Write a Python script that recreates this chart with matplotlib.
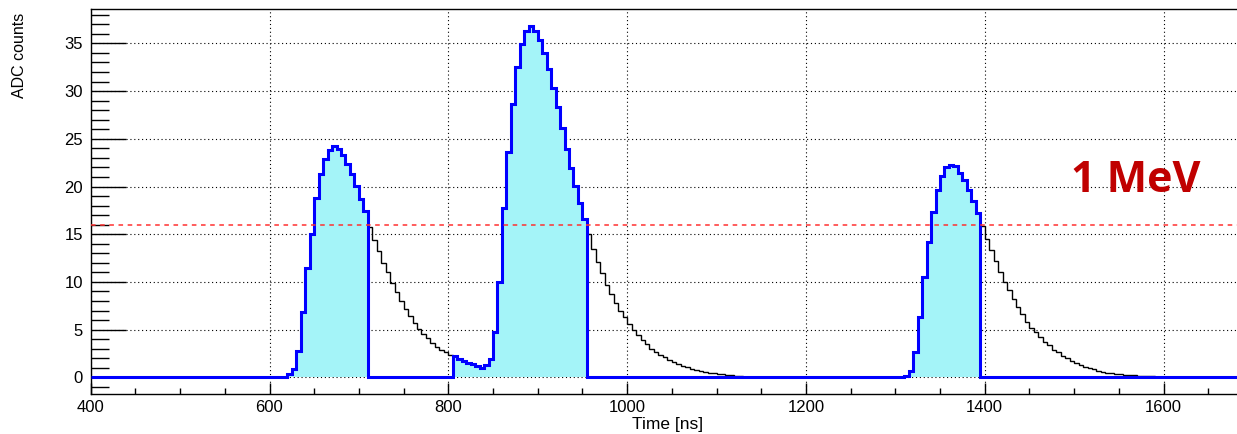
import numpy as np
import matplotlib
matplotlib.use("Agg")
import matplotlib.pyplot as plt
from matplotlib.ticker import MultipleLocator

# ---- data (ADC counts per 5 ns bin) ----
bin_width = 5
t_min = 400
t_max = 1690

pulse1_start = 620
pulse1_adc = [0.3, 0.85, 2.8, 6.8, 11.5, 15.0, 18.8, 21.3, 22.9, 23.8, 24.2, 23.9,
              23.3, 22.4, 21.3, 20.1, 18.7, 17.4,
              15.8, 14.4, 13.2, 12.0, 11.0, 9.85, 8.9, 8.0, 7.2, 6.4, 5.7, 5.1,
              4.5, 4.1, 3.6, 3.2, 2.9, 2.6, 2.3]

pulse2_start = 805
pulse2_adc = [2.2, 1.9, 1.7, 1.5, 1.36, 1.2, 1.0, 1.3, 1.9, 4.8, 10.0, 17.7, 23.6,
              28.7, 32.5, 34.9, 36.3, 36.8, 36.3, 35.4, 34.0, 32.3, 30.3, 28.3,
              26.1, 23.9, 21.9, 20.1, 18.3, 16.6,
              15.0, 13.5, 12.1, 10.9, 9.7, 8.7, 7.8, 6.95, 6.3, 5.6, 4.96, 4.4,
              3.9, 3.5, 3.0, 2.7, 2.3, 2.1, 1.8, 1.6, 1.36, 1.2, 1.05, 0.9, 0.77,
              0.66, 0.56, 0.49, 0.42, 0.35, 0.31, 0.28, 0.2, 0.17, 0.14]

pulse3_start = 1310
pulse3_adc = [0.14, 0.7, 2.6, 6.35, 10.5, 14.15, 17.3, 19.6, 21.1, 22.0, 22.25,
              22.15, 21.45, 20.7, 19.6, 18.5, 17.25,
              15.9, 14.5, 13.35, 12.15, 11.05, 10.0, 9.15, 8.2, 7.4, 6.6, 5.8,
              5.2, 4.7, 4.2, 3.7, 3.4, 2.9, 2.7, 2.2, 2.0, 1.7, 1.5, 1.3, 1.1,
              0.94, 0.84, 0.7, 0.59, 0.48, 0.42, 0.35, 0.31, 0.28, 0.24, 0.2,
              0.17, 0.15, 0.14, 0.1]

# integration gates (start, end) in ns
gate_starts = [620, 805, 1310]
gate_ends = [710, 955, 1395]

threshold = 16
label_text = "1 MeV"

# ---- build histograms ----
edges = np.arange(t_min, t_max + bin_width, bin_width)
centers = edges[:-1]
signal = np.zeros(len(centers))
for start, vals in [(pulse1_start, pulse1_adc), (pulse2_start, pulse2_adc),
                    (pulse3_start, pulse3_adc)]:
    i0 = (start - t_min) // bin_width
    signal[i0:i0 + len(vals)] = vals

mask = np.zeros(len(centers), dtype=bool)
for a, b in zip(gate_starts, gate_ends):
    mask |= (centers >= a) & (centers < b)
gated = np.where(mask, signal, 0.0)

# ---- figure ----
W, H = 1237, 434
fig = plt.figure(figsize=(W / 100, H / 100), dpi=100)
plt.rcParams['font.family'] = ['Liberation Sans', 'DejaVu Sans']

ax_left = 90.7 / W
ax_bottom = (H - 394) / H
ax_top = (H - 9) / H
x_hi = 1690
ax_right_px = 90.7 + (x_hi - 400) * 0.894
ax = fig.add_axes([ax_left, ax_bottom, ax_right_px / W - ax_left, ax_top - ax_bottom])

ax.stairs(signal, edges, color='black', linewidth=1.0, zorder=2)
ax.stairs(gated, edges, fill=True, color='#a4f4f8', linewidth=0, zorder=3)
ax.stairs(gated, edges, color='#0000ff', linewidth=2.2, zorder=4)
ax.axhline(threshold, color='#ff3030', linestyle=(0, (3, 3)), linewidth=1.1, zorder=5)

ax.set_xlim(400, x_hi)
ax.set_ylim((377.3 - 394) / 9.54, (377.3 - 9) / 9.54)

ax.xaxis.set_major_locator(MultipleLocator(200))
ax.xaxis.set_minor_locator(MultipleLocator(50))
ax.yaxis.set_major_locator(MultipleLocator(5))
ax.yaxis.set_minor_locator(MultipleLocator(1))

ax.tick_params(axis='y', which='major', direction='in', length=25, width=1.0, pad=5.5, labelsize=12)
ax.tick_params(axis='y', which='minor', direction='in', length=13, width=1.0)
ax.tick_params(axis='x', which='major', direction='in', length=8, width=1.0, pad=4, labelsize=12)
ax.tick_params(axis='x', which='minor', direction='in', length=4, width=1.0)

ax.grid(True, which='major', color='black', linestyle=(0, (1, 2.5)), linewidth=0.8, zorder=1)
ax.set_axisbelow(True)
for s in ax.spines.values():
    s.set_linewidth(1.0)

fig.text(668 / W, 1 - 424 / H, "Time [ns]", ha='center', va='center', fontsize=12.5)
fig.text(20 / W, 1 - 55 / H, "ADC counts", ha='center', va='center', rotation=90, fontsize=11.5)
fig.text(1136 / W, 1 - 181 / H, label_text, ha='center', va='center', fontsize=31,
         fontweight='bold', color='#c00000', family=['Open Sans', 'DejaVu Sans'])

fig.savefig("out.png", dpi=100)
